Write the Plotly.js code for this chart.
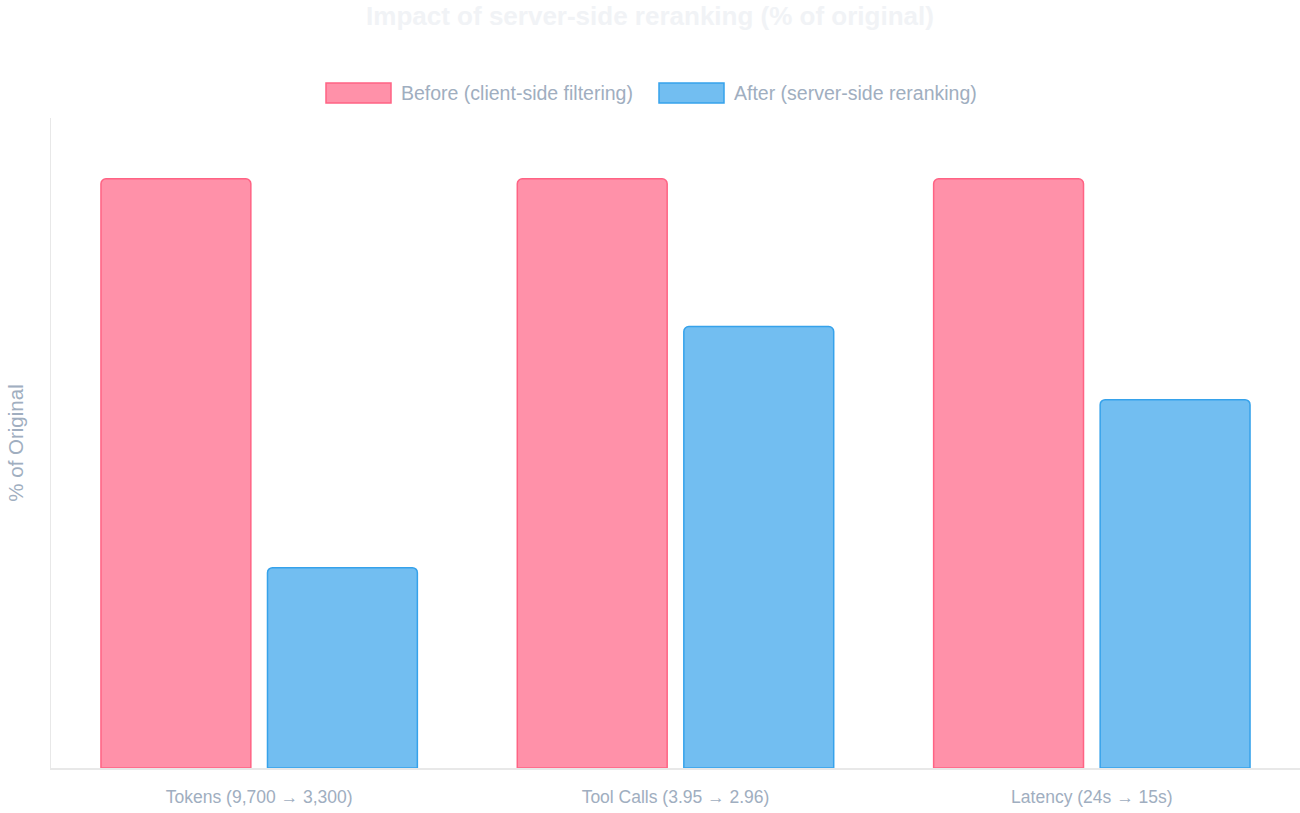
<!DOCTYPE html>
<html>
<head>
<meta charset="utf-8">
<script src="https://cdn.plot.ly/plotly-3.0.1.min.js"></script>
<style>
  html, body { margin: 0; padding: 0; background: #fff; }
  #chart { width: 1300px; height: 813px; }
</style>
</head>
<body>
<div id="chart"></div>
<script>
var categories = ['Tokens (9,700 \u2192 3,300)', 'Tool Calls (3.95 \u2192 2.96)', 'Latency (24s \u2192 15s)'];
var beforeVals = [100, 100, 100];
var afterVals = [34.0, 74.9, 62.5];
var seriesNames = ['Before (client-side filtering)', 'After (server-side reranking)'];

var pinkFill = 'rgba(255, 99, 132, 0.7)';
var pinkLine = 'rgb(255, 99, 132)';
var blueFill = 'rgba(54, 162, 235, 0.7)';
var blueLine = 'rgb(54, 162, 235)';
var textGrey = '#a0aec0';
var font = '"Liberation Sans", Arial, Helvetica, sans-serif';

// plot area in pixels, used to place the hand-made legend
var L = 51, R = 1300, T = 118, B = 768;
function px(x) { return (x - L) / (R - L); }
function py(y) { return (B - y) / (B - T); }

var before = {
  x: categories,
  y: beforeVals,
  name: seriesNames[0],
  type: 'bar',
  marker: { color: pinkFill, line: { color: pinkLine, width: 1.5 } },
  showlegend: false
};

var after = {
  x: categories,
  y: afterVals,
  name: seriesNames[1],
  type: 'bar',
  marker: { color: blueFill, line: { color: blueLine, width: 1.5 } },
  showlegend: false
};

var layout = {
  width: 1300,
  height: 813,
  margin: { l: L, r: 1300 - R, t: T, b: 813 - B },
  paper_bgcolor: '#ffffff',
  plot_bgcolor: '#ffffff',
  font: { family: font, color: textGrey },
  barmode: 'group',
  bargap: 0.2,
  bargroupgap: 0.1,
  barcornerradius: 5,
  title: {
    text: 'Impact of server-side reranking (% of original)',
    font: { family: font, size: 26, color: '#f1f3f6', weight: 'bold' },
    xref: 'container', x: 0.5, xanchor: 'center',
    yref: 'container', y: 1 - 16 / 813, yanchor: 'middle'
  },
  xaxis: {
    showgrid: false,
    zeroline: false,
    showline: true,
    linecolor: '#e8e8e8',
    linewidth: 1.5,
    ticks: '',
    tickfont: { size: 17.5, color: textGrey },
    ticklabelstandoff: 12
  },
  yaxis: {
    range: [0, 110.3],
    showgrid: false,
    zeroline: false,
    showline: true,
    linecolor: '#e8e8e8',
    linewidth: 1.5,
    showticklabels: false,
    ticks: '',
    title: { text: '% of Original', font: { size: 20.5, color: textGrey }, standoff: 20 }
  },
  shapes: [
    { type: 'rect', xref: 'paper', yref: 'paper', x0: px(326), x1: px(391), y0: py(103), y1: py(83),
      fillcolor: pinkFill, line: { color: pinkLine, width: 1.5 } },
    { type: 'rect', xref: 'paper', yref: 'paper', x0: px(659), x1: px(724), y0: py(103), y1: py(83),
      fillcolor: blueFill, line: { color: blueLine, width: 1.5 } }
  ],
  annotations: [
    { text: seriesNames[0], xref: 'paper', yref: 'paper', x: px(399), y: py(93),
      xanchor: 'left', yanchor: 'middle', showarrow: false, font: { size: 19.5, color: textGrey } },
    { text: seriesNames[1], xref: 'paper', yref: 'paper', x: px(732), y: py(93),
      xanchor: 'left', yanchor: 'middle', showarrow: false, font: { size: 19.5, color: textGrey } }
  ]
};

Plotly.newPlot('chart', [before, after], layout, { displayModeBar: false, staticPlot: true });
</script>
</body>
</html>
